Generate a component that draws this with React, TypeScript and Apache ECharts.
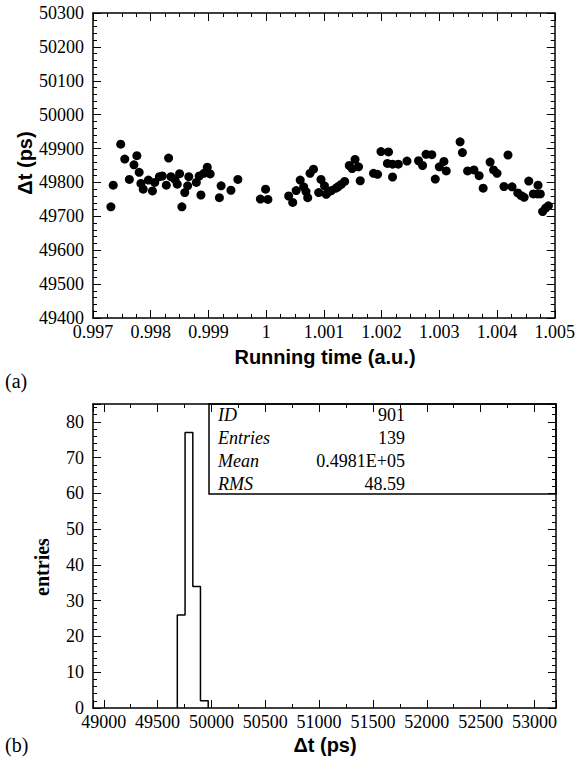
import React, { useEffect, useRef } from "react";
import * as echarts from "echarts";

// ---- Data: panel (a) ----
const runTime = [
  0.99748, 0.99755, 0.99776, 0.99771, 0.9978, 0.99763, 0.99735, 0.99731, 0.99831, 0.99783,
  0.99787, 0.99796, 0.99803, 0.99807, 0.99815, 0.9982, 0.99827, 0.99835, 0.99842, 0.9985,
  0.99846, 0.99864, 0.99859, 0.99854, 0.99866, 0.99879, 0.99884, 0.99887, 0.99892, 0.99898,
  0.99903, 0.99919, 0.99922, 0.99939, 0.99951, 0.99999, 0.9999, 1.00003, 1.00039, 1.00046,
  1.00052, 1.00059, 1.00065, 1.00069, 1.00072, 1.00076, 1.00082, 1.00095, 1.00091, 1.00101,
  1.00104, 1.00113, 1.00121, 1.0013, 1.00136, 1.00108, 1.00125, 1.00144, 1.00154, 1.0016,
  1.00149, 1.00163, 1.00186, 1.00193, 1.00199, 1.00212, 1.0021, 1.00219, 1.00229, 1.00219,
  1.00244, 1.00264, 1.00271, 1.00277, 1.00287, 1.00293, 1.003, 1.00308, 1.00312, 1.00336,
  1.0034, 1.00349, 1.0036, 1.00369, 1.00376, 1.00388, 1.00394, 1.004, 1.00419, 1.00412,
  1.00426, 1.00436, 1.00442, 1.00447, 1.00455, 1.00463, 1.0047, 1.00475, 1.00471, 1.00479,
  1.00484, 1.00489,
];
const deltaT = [
  49913, 49869, 49879, 49852, 49830, 49809, 49792, 49728, 49872, 49797,
  49780, 49807, 49775, 49800, 49817, 49819, 49792, 49817, 49809, 49826,
  49795, 49790, 49770, 49728, 49817, 49800, 49819, 49763, 49827, 49845,
  49825, 49755, 49790, 49777, 49809, 49780, 49751, 49750, 49760, 49741,
  49776, 49807, 49787, 49773, 49755, 49827, 49839, 49809, 49770, 49790,
  49765, 49776, 49783, 49794, 49803, 49772, 49788, 49850, 49868, 49846,
  49841, 49805, 49827, 49824, 49891, 49890, 49856, 49854, 49854, 49816,
  49863, 49864, 49850, 49883, 49882, 49810, 49846, 49862, 49834, 49920,
  49888, 49834, 49837, 49820, 49783, 49860, 49837, 49827, 49881, 49788,
  49787, 49769, 49761, 49756, 49804, 49766, 49766, 49766, 49792, 49714,
  49724, 49731,
];
const xRangeA = [0.997, 1.005];
const yRangeA = [49400, 50300];

// ---- Data: panel (b) histogram ----
const histEdges = [49683, 49755, 49827, 49898, 49970];
const histCounts = [26, 77, 34, 2];
const xRangeB = [48900, 53200];
const yRangeB = [0, 85];

// ---- Stats box ----
const statNames = ["ID", "Entries", "Mean", "RMS"];
const statValues = ["901", "139", "0.4981E+05", "48.59"];

const SERIF = '"Liberation Serif", "DejaVu Serif", serif';
const SANS = '"Liberation Sans", Arial, sans-serif';

export default function App() {
  const ref = useRef<HTMLDivElement>(null);
  useEffect(() => {
    if (!ref.current) return;
    const chart = echarts.init(ref.current, undefined, { renderer: "svg" });

    const lineStyle = { color: "#000", width: 1.5 };
    const mkAxis = (
      kind: "x" | "y",
      grid: number,
      pos: string,
      range: number[],
      opts: any,
      showLabel: boolean
    ) => ({
      type: "value",
      gridIndex: grid,
      position: pos,
      min: range[0],
      max: range[1],
      ...opts.scale,
      axisLine: { show: true, onZero: false, lineStyle },
      axisTick: { show: true, inside: true, length: 8, lineStyle: { color: "#000", width: 1 } },
      minorTick: { show: true, splitNumber: opts.minor, length: 4, lineStyle: { color: "#000", width: 1 } },
      splitLine: { show: false },
      minorSplitLine: { show: false },
      axisLabel: {
        show: showLabel,
        color: "#000",
        fontFamily: "Liberation Serif",
        fontStyle: "normal",
        fontWeight: "normal",
        fontSize: 18,
        margin: kind === "x" ? 5 : 9,
        formatter: opts.fmt,
        showMinLabel: opts.showMin,
        showMaxLabel: opts.showMax,
      },
    });

    const fmtA = (v: number) => String(parseFloat(v.toFixed(4)));
    const fmtInt = (v: number) => String(Math.round(v));

    const xA = { scale: { interval: 0.001 }, minor: 4, fmt: fmtA, showMin: true, showMax: true };
    const yA = { scale: { interval: 100 }, minor: 5, fmt: fmtInt, showMin: true, showMax: true };
    const xB = {
      scale: { splitNumber: 9, minInterval: 500, maxInterval: 500 },
      minor: 2,
      fmt: fmtInt,
      showMin: false,
      showMax: false,
    };
    const yB = { scale: { interval: 10 }, minor: 5, fmt: fmtInt, showMin: true, showMax: false };

    const histLine: number[][] = [];
    for (let i = 0; i < histCounts.length; i++) {
      if (i === 0) histLine.push([histEdges[0], 0]);
      histLine.push([histEdges[i], histCounts[i]]);
      histLine.push([histEdges[i + 1], histCounts[i]]);
    }
    histLine.push([histEdges[histEdges.length - 1], 0]);

    const graphics: any[] = [
      { type: "text", x: 25, y: 163, rotation: Math.PI / 2, style: { text: "Δt (ps)", font: `bold 20px ${SANS}`, align: "center", verticalAlign: "middle", fill: "#000" } },
      { type: "text", x: 325, y: 357, style: { text: "Running time (a.u.)", font: `bold 20px ${SANS}`, align: "center", verticalAlign: "middle", fill: "#000" } },
      { type: "text", x: 5, y: 381, style: { text: "(a)", font: `20px ${SERIF}`, align: "left", verticalAlign: "middle", fill: "#000" } },
      { type: "text", x: 42, y: 567, rotation: Math.PI / 2, style: { text: "entries", font: `bold 20px ${SERIF}`, align: "center", verticalAlign: "middle", fill: "#000" } },
      { type: "text", x: 325, y: 745, style: { text: "Δt (ps)", font: `bold 20px ${SANS}`, align: "center", verticalAlign: "middle", fill: "#000" } },
      { type: "text", x: 5, y: 745, style: { text: "(b)", font: `20px ${SERIF}`, align: "left", verticalAlign: "middle", fill: "#000" } },
      { type: "rect", shape: { x: 209, y: 404, width: 347, height: 90 }, style: { fill: "none", stroke: "#000", lineWidth: 1.5 }, z: 10 },
    ];
    statNames.forEach((n, i) => {
      const y = 415 + i * 23;
      graphics.push({ type: "text", x: 218, y, z: 11, style: { text: n, font: `italic 18px ${SERIF}`, align: "left", verticalAlign: "middle", fill: "#000" } });
      graphics.push({ type: "text", x: 405, y, z: 11, style: { text: statValues[i], font: `18px ${SERIF}`, align: "right", verticalAlign: "middle", fill: "#000" } });
    });

    chart.setOption({
      animation: false,
      backgroundColor: "#fff",
      textStyle: { fontFamily: "Liberation Serif" },
      grid: [
        { left: 93, top: 13, width: 463, height: 305 },
        { left: 93, top: 404, width: 463, height: 304 },
      ],
      xAxis: [
        mkAxis("x", 0, "bottom", xRangeA, xA, true),
        mkAxis("x", 0, "top", xRangeA, xA, false),
        mkAxis("x", 1, "bottom", xRangeB, xB, true),
        mkAxis("x", 1, "top", xRangeB, xB, false),
      ],
      yAxis: [
        mkAxis("y", 0, "left", yRangeA, yA, true),
        mkAxis("y", 0, "right", yRangeA, yA, false),
        mkAxis("y", 1, "left", yRangeB, yB, true),
        mkAxis("y", 1, "right", yRangeB, yB, false),
      ],
      series: [
        {
          type: "scatter",
          xAxisIndex: 0,
          yAxisIndex: 0,
          symbol: "circle",
          symbolSize: 9,
          itemStyle: { color: "#000", opacity: 1 },
          data: runTime.map((x, i) => [x, deltaT[i]]),
        },
        {
          type: "line",
          xAxisIndex: 2,
          yAxisIndex: 2,
          symbol: "none",
          lineStyle: { color: "#000", width: 1.5 },
          data: histLine,
        },
      ],
      graphic: graphics,
    });
    return () => chart.dispose();
  }, []);
  return (
    <div
      ref={ref}
      style={{ position: "fixed", left: 0, top: 0, width: 578, height: 759, background: "#fff" }}
    />
  );
}
